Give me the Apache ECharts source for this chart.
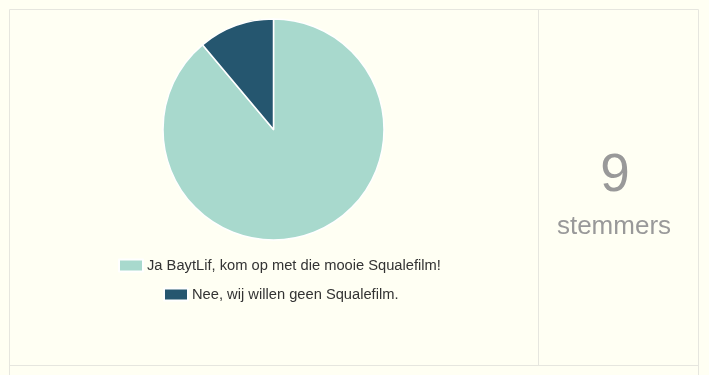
<!DOCTYPE html>
<html>
<head>
<meta charset="utf-8">
<script src="https://cdn.jsdelivr.net/npm/echarts@6/dist/echarts.min.js"></script>
<style>
html,body{margin:0;padding:0;background:#fffff3;}
#chart{width:709px;height:375px;}
</style>
</head>
<body>
<div id="chart"></div>
<script>
const categories = ["Ja BaytLif, kom op met die mooie Squalefilm!", "Nee, wij willen geen Squalefilm."];
const votes = [8, 1];
const totalLabel = "9";
const totalUnit = "stemmers";

const colors = ['#a8d9cd', '#25566f'];
const chart = echarts.init(document.getElementById('chart'));
const lineStyle = {stroke: '#e6e6df', lineWidth: 1};
const legendText = {fontFamily: 'Liberation Sans, Arial', fontSize: 14.7, color: '#333', padding: [0, 0, 0, -1]};
chart.setOption({
  backgroundColor: '#fffff3',
  animation: false,
  color: colors,
  legend: [
    {data: [categories[0]], left: 118, top: 258, padding: 0, itemWidth: 24, itemHeight: 12, itemGap: 0, icon: 'rect',
     textStyle: legendText, selectedMode: false},
    {data: [categories[1]], left: 163, top: 287, padding: 0, itemWidth: 24, itemHeight: 12, itemGap: 0, icon: 'rect',
     textStyle: legendText, selectedMode: false}
  ],
  series: [{
    type: 'pie',
    center: [273.5, 129.5],
    radius: 110.5,
    startAngle: 90,
    clockwise: true,
    label: {show: false},
    labelLine: {show: false},
    silent: true,
    itemStyle: {borderColor: '#fff', borderWidth: 1.5},
    data: categories.map((c, i) => ({name: c, value: votes[i]}))
  }],
  graphic: [
    {type: 'line', shape: {x1: 9.5, y1: 9.5, x2: 698.5, y2: 9.5}, style: lineStyle, silent: true},
    {type: 'line', shape: {x1: 9.5, y1: 9.5, x2: 9.5, y2: 375}, style: lineStyle, silent: true},
    {type: 'line', shape: {x1: 698.5, y1: 9.5, x2: 698.5, y2: 375}, style: lineStyle, silent: true},
    {type: 'line', shape: {x1: 538.5, y1: 9.5, x2: 538.5, y2: 365}, style: lineStyle, silent: true},
    {type: 'line', shape: {x1: 9.5, y1: 365.5, x2: 698.5, y2: 365.5}, style: lineStyle, silent: true},
    {type: 'text', x: 615, y: 150, silent: true,
     style: {text: totalLabel, fontFamily: 'Liberation Sans, Arial', fontSize: 53, fill: '#999', textAlign: 'center'}},
    {type: 'text', x: 614, y: 214, silent: true,
     style: {text: totalUnit, fontFamily: 'Liberation Sans, Arial', fontSize: 26, fill: '#999', textAlign: 'center'}}
  ]
});
</script>
</body>
</html>
